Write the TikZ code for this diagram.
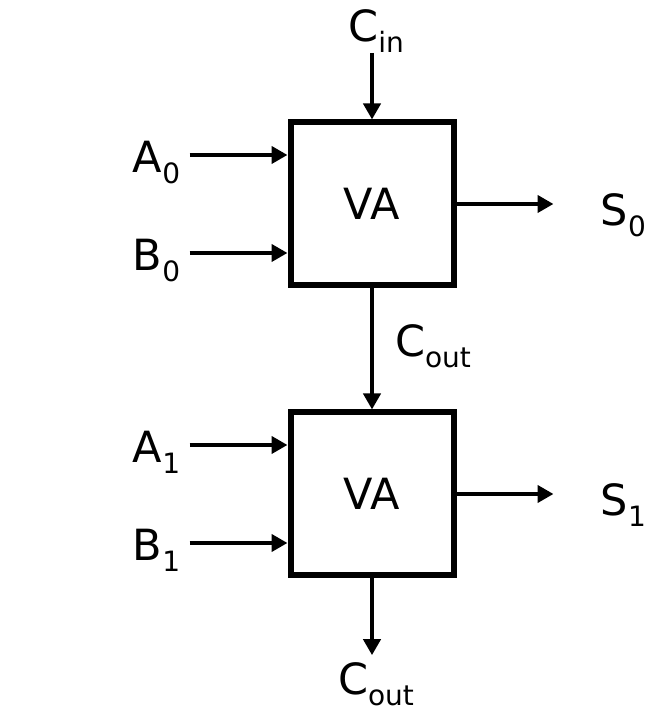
\documentclass[tikz,border=0pt]{standalone}
\usepackage{fontspec}
\setmainfont{DejaVu Sans}
\usepackage{tikz}
\usetikzlibrary{arrows.meta, positioning}
\newcommand{\subsig}[2]{#1\raisebox{-5.5pt}{\fontsize{14}{16}\selectfont #2}}

\begin{document}
\begin{tikzpicture}[x=0.5pt, y=0.5pt,
    every node/.style={font=\fontsize{21.5}{26}\selectfont, inner sep=0pt},
    adder/.style={draw, line width=3pt, minimum size=81.5pt},
    sig/.style={line width=2pt, -{Triangle[length=8pt, width=8.5pt]}},
    inlbl/.style={anchor=base east, inner xsep=4.5pt},
    outlbl/.style={anchor=base west, inner xsep=23.5pt}]
    \useasboundingbox (0,0) rectangle (646,710);
    % the two adders
    \node[adder] (va0) at (372,506) {VA};
    \node[adder] (va1) at (372,216) {VA};
    % inputs A, B
    \coordinate (a0in) at ([yshift=24.5pt]va0.west);
    \coordinate (b0in) at ([yshift=-24.5pt]va0.west);
    \coordinate (a1in) at ([yshift=24.5pt]va1.west);
    \coordinate (b1in) at ([yshift=-24.5pt]va1.west);
    \node[inlbl] (a0) at ([xshift=-49pt, yshift=-9pt]a0in) {\subsig{A}{0}};
    \node[inlbl] (b0) at ([xshift=-49pt, yshift=-9pt]b0in) {\subsig{B}{0}};
    \node[inlbl] (a1) at ([xshift=-49pt, yshift=-9pt]a1in) {\subsig{A}{1}};
    \node[inlbl] (b1) at ([xshift=-49pt, yshift=-9pt]b1in) {\subsig{B}{1}};
    \draw[sig] (a0.east |- a0in) -- (a0in);
    \draw[sig] (b0.east |- b0in) -- (b0in);
    \draw[sig] (a1.east |- a1in) -- (a1in);
    \draw[sig] (b1.east |- b1in) -- (b1in);
    % sums
    \node[outlbl] (s0) at ([xshift=48.5pt, yshift=-11pt]va0.east) {\subsig{S}{0}};
    \node[outlbl] (s1) at ([xshift=48.5pt, yshift=-11pt]va1.east) {\subsig{S}{1}};
    \draw[sig] (va0.east) -- (va0.east -| s0.west);
    \draw[sig] (va1.east) -- (va1.east -| s1.west);
    % carries
    \node[anchor=base] (cin) at ([xshift=2pt, yshift=39pt]va0.north) {\subsig{C}{in}};
    \draw[sig] (va0.north |- cin.south) -- (va0.north);
    \draw[sig] (va0.south) -- node[midway, anchor=base west, xshift=10.5pt, yshift=-4pt] (cmid) {\subsig{C}{out}} (va1.north);
    \node[anchor=base] (cout) at ([xshift=2pt, yshift=-58pt]va1.south) {\subsig{C}{out}};
    \draw[sig] (va1.south) -- ([yshift=3.5pt]va1.south |- cout.north);
\end{tikzpicture}
\end{document}
